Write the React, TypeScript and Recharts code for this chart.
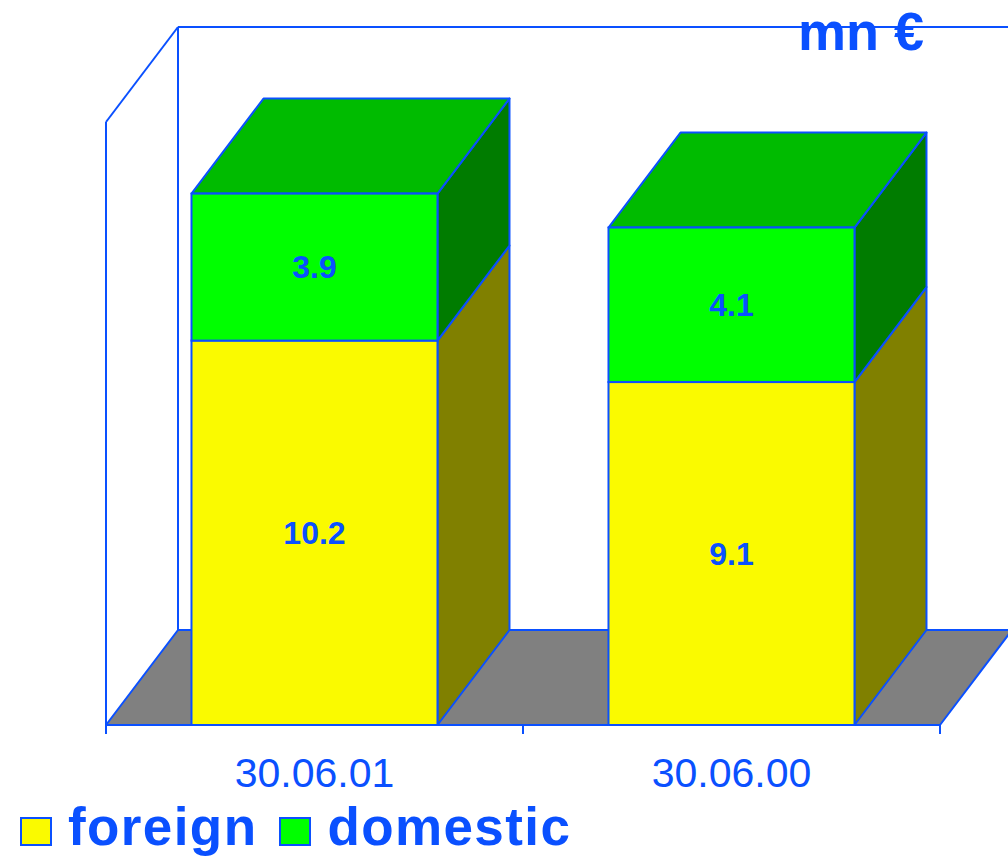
import React from 'react';
import { ComposedChart, Bar, XAxis, YAxis, ReferenceArea, LabelList } from 'recharts';

const categories = ['30.06.01', '30.06.00'];
const foreign = [10.2, 9.1];
const domestic = [3.9, 4.1];
const seriesNames = ['foreign', 'domestic'];
const yDomain = [0, 16];
const unitTitle = 'mn €';

const BLUE = '#0A50FF';
const FONT = '"Liberation Sans", Arial, sans-serif';
const DX = 72;
const DY = -95;

const COLORS = {
  foreign: { front: '#FAFA00', side: '#808000', top: '#BBBB00' },
  domestic: { front: '#00FF00', side: '#007C00', top: '#00BB00' },
};

const data = categories.map((c, i) => ({ date: c, foreign: foreign[i], domestic: domestic[i] }));

function makeBox(key: 'foreign' | 'domestic', showTop: boolean) {
  return (props: any) => {
    const { x, y, width: w, height: h } = props;
    if (w == null || h == null) return <g />;
    const c = COLORS[key];
    const side = `${x + w},${y} ${x + w + DX},${y + DY} ${x + w + DX},${y + h + DY} ${x + w},${y + h}`;
    const top = `${x},${y} ${x + DX},${y + DY} ${x + w + DX},${y + DY} ${x + w},${y}`;
    return (
      <g>
        <polygon points={side} fill={c.side} stroke={BLUE} strokeWidth={2} strokeLinejoin="round" />
        {showTop && <polygon points={top} fill={c.top} stroke={BLUE} strokeWidth={2} strokeLinejoin="round" />}
        <rect x={x} y={y} width={w} height={h} fill={c.front} stroke={BLUE} strokeWidth={2} />
      </g>
    );
  };
}

function Walls(props: any) {
  const { x, y, width, height } = props;
  const L = x;
  const R = x + width;
  const T = y;
  const B = y + height;
  const n = categories.length;
  const ticks = Array.from({ length: n + 1 }, (_, i) => L + (i * width) / n);
  const floor = `${L},${B} ${R},${B} ${R + DX},${B + DY} ${L + DX},${B + DY}`;
  return (
    <g>
      <polygon points={floor} fill="#808080" stroke={BLUE} strokeWidth={2} strokeLinejoin="round" />
      <line x1={L + DX} y1={B + DY} x2={L + DX} y2={T + DY} stroke={BLUE} strokeWidth={2} />
      <line x1={L + DX} y1={T + DY} x2={R + DX} y2={T + DY} stroke={BLUE} strokeWidth={2} />
      <line x1={L} y1={B} x2={L} y2={T} stroke={BLUE} strokeWidth={2} />
      <line x1={L} y1={T} x2={L + DX} y2={T + DY} stroke={BLUE} strokeWidth={2} />
      {ticks.map((t, i) => (
        <line key={i} x1={t} y1={B} x2={t} y2={B + 9} stroke={BLUE} strokeWidth={2} />
      ))}
      <text x={924} y={50} textAnchor="end" fill={BLUE} fontFamily={FONT} fontWeight="bold" fontSize={54}>
        {unitTitle}
      </text>
    </g>
  );
}

function AxisTick(props: any) {
  const { x, y, payload } = props;
  return (
    <text x={x} y={y + 54} textAnchor="middle" fill={BLUE} fontFamily={FONT} fontSize={41}>
      {payload.value}
    </text>
  );
}

export default function App() {
  return (
    <div style={{ position: 'absolute', left: 0, top: 0, width: 1008, height: 857, background: '#fff' }}>
      <ComposedChart
        width={1008}
        height={857}
        data={data}
        margin={{ top: 122, right: 68, bottom: 102, left: 106 }}
        barCategoryGap="20.5%"
      >
        <XAxis dataKey="date" height={30} axisLine={false} tickLine={false} tick={<AxisTick />} interval={0} />
        <YAxis hide domain={yDomain} />
        <ReferenceArea y1={yDomain[0]} y2={yDomain[1]} shape={Walls} fill="none" stroke="none" />
        <Bar dataKey="foreign" stackId="a" isAnimationActive={false} shape={makeBox('foreign', false)}>
          <LabelList dataKey="foreign" position="center" fill={BLUE} fontFamily={FONT} fontWeight="bold" fontSize={32} />
        </Bar>
        <Bar dataKey="domestic" stackId="a" isAnimationActive={false} shape={makeBox('domestic', true)}>
          <LabelList dataKey="domestic" position="center" fill={BLUE} fontFamily={FONT} fontWeight="bold" fontSize={32} />
        </Bar>
      </ComposedChart>
      <div
        style={{
          position: 'absolute',
          left: 20,
          top: 800,
          display: 'flex',
          alignItems: 'flex-start',
          fontFamily: FONT,
          fontWeight: 'bold',
          fontSize: 53,
          lineHeight: '53px',
          color: BLUE,
          whiteSpace: 'nowrap',
        }}
      >
        {seriesNames.map((name) => (
          <div key={name} style={{ display: 'flex', alignItems: 'flex-start', marginRight: 22 }}>
            <div
              style={{
                width: 28,
                height: 25,
                marginTop: 17,
                marginRight: 16,
                border: `2px solid ${BLUE}`,
                background: COLORS[name as 'foreign' | 'domestic'].front,
              }}
            />
            <span style={{ letterSpacing: 1.4 }}>{name}</span>
          </div>
        ))}
      </div>
    </div>
  );
}
